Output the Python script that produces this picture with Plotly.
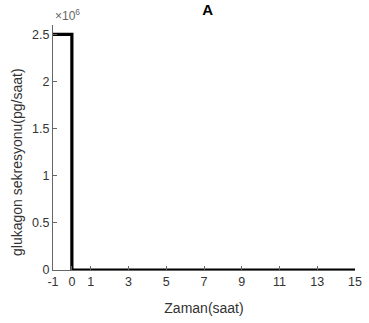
import plotly.graph_objects as go

# Glucagon secretion step profile (pg/hour) over time (hours)
time_h = [-1, 0, 0, 15]
secretion = [2.5e6, 2.5e6, 0, 0]

x_ticks = [-1, 0, 1, 3, 5, 7, 9, 11, 13, 15]
y_ticks = [0, 0.5e6, 1e6, 1.5e6, 2e6, 2.5e6]
y_tick_text = ["0", "0.5", "1", "1.5", "2", "2.5"]

font_family = "Liberation Sans, Arial, sans-serif"
axis_grey = "#666666"
text_grey = "#333333"

fig = go.Figure()
fig.add_trace(go.Scatter(
    x=time_h, y=secretion, mode="lines",
    line=dict(color="black", width=3.2),
    showlegend=False, cliponaxis=False,
))

fig.update_layout(
    width=369, height=323,
    margin=dict(l=53, r=7, t=25, b=53),
    paper_bgcolor="white", plot_bgcolor="white",
    font=dict(family=font_family, size=12, color=text_grey),
    title=dict(text="<b>A</b>", x=0.563, xanchor="center", y=0.985, yanchor="top",
               font=dict(size=15, color="black")),
    xaxis=dict(
        range=[-1, 15], tickvals=x_ticks, ticktext=[str(v) for v in x_ticks],
        ticks="inside", ticklen=4, tickcolor=axis_grey, showgrid=False, zeroline=False,
        showline=True, linecolor=axis_grey, linewidth=1,
        title=dict(text="Zaman(saat)", standoff=15, font=dict(size=14, color=text_grey)),
        tickfont=dict(size=12.5, color=text_grey),
    ),
    yaxis=dict(
        range=[0, 2.6e6], tickvals=y_ticks, ticktext=y_tick_text,
        ticks="inside", ticklen=4, tickcolor=axis_grey, showgrid=False, zeroline=False,
        showline=True, linecolor=axis_grey, linewidth=1,
        tickfont=dict(size=12.5, color=text_grey),
    ),
    annotations=[
        dict(
            text="×10<sup>6</sup>", xref="paper", yref="paper", x=0.0, y=1.0,
            xanchor="left", yanchor="bottom", showarrow=False,
            font=dict(size=12, color="#666666", family=font_family),
        ),
        dict(
            text="glukagon sekresyonu(pg/saat)", xref="paper", yref="paper",
            x=-0.12, y=0.44, xanchor="center", yanchor="middle", textangle=-90,
            showarrow=False, font=dict(size=14, color=text_grey, family=font_family),
        ),
    ],
)

fig.write_html("out.html")
